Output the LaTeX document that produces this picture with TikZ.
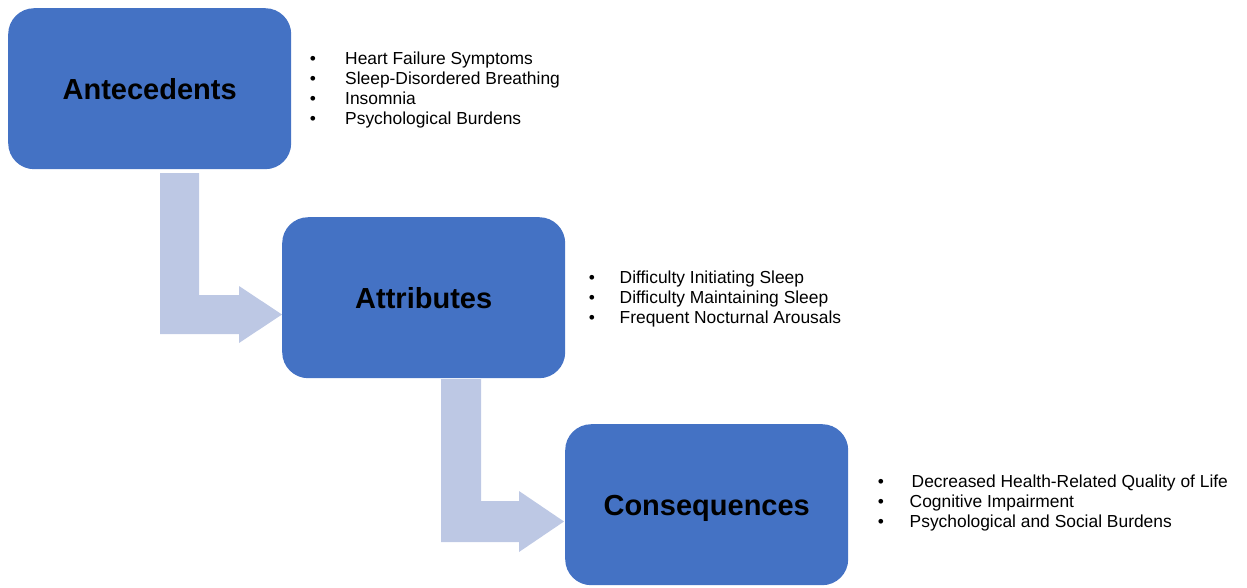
\documentclass[tikz,border=0pt]{standalone}
\usepackage{fontspec}
\setmainfont{Liberation Sans}
\definecolor{boxblue}{HTML}{4472C4}
\definecolor{arrowblue}{RGB}{189,200,228}
\begin{document}
\begin{tikzpicture}[x=1pt,y=-1pt,
  stagebox/.style={fill=boxblue, draw=none, rounded corners=26pt,
    minimum width=283pt, minimum height=161pt, anchor=north west,
    inner sep=0pt, text height=21pt, text depth=0pt,
    font=\fontsize{29}{34}\selectfont\bfseries, text=black},
  bentarrow/.style={fill=arrowblue, draw=none},
  bul/.style={anchor=base, inner sep=0pt, font=\fontsize{17.4}{20}\selectfont},
  item/.style={anchor=base west, inner sep=0pt, font=\fontsize{17.4}{20}\selectfont}]
\useasboundingbox (0,0) rectangle (1247,587);

% stage boxes
\node[stagebox] (ante) at (8,8) {Antecedents};
\node[stagebox] (attr) at (282,217) {Attributes};
\node[stagebox] (cons) at (565,424) {Consequences};

% bent arrows
\coordinate (a1) at (160,173);
\coordinate (a1tip) at (282,314.5);
\fill[bentarrow] (a1) -- (199,173) -- (199,295) -- (239,295) -- (239,286)
  -- (a1tip) -- (239,343) -- (239,334) -- (160,334) -- cycle;
\coordinate (a2) at (441,379);
\coordinate (a2tip) at (564,521.5);
\fill[bentarrow] (a2) -- (481,379) -- (481,501) -- (519,501) -- (519,491)
  -- (a2tip) -- (519,552) -- (519,542) -- (441,542) -- cycle;

% antecedent list
\node[bul] (b11) at (313,64) {•};
\node[item] (t11) at (345,64) {Heart Failure Symptoms};
\node[bul] (b12) at (313,84) {•};
\node[item] (t12) at (345,84) {Sleep-Disordered Breathing};
\node[bul] (b13) at (313,104) {•};
\node[item] (t13) at (345,104) {Insomnia};
\node[bul] (b14) at (313,124) {•};
\node[item] (t14) at (345,124) {Psychological Burdens};

% attribute list
\node[bul] (b21) at (592,283) {•};
\node[item] (t21) at (619.5,283) {Difficulty Initiating Sleep};
\node[bul] (b22) at (592,303) {•};
\node[item] (t22) at (619.5,303) {Difficulty Maintaining Sleep};
\node[bul] (b23) at (592,323) {•};
\node[item] (t23) at (619.5,323) {Frequent Nocturnal Arousals};

% consequence list
\node[bul] (b31) at (881,487) {•};
\node[item] (t31) at (911.5,487) {Decreased Health-Related Quality of Life};
\node[bul] (b32) at (881,507) {•};
\node[item] (t32) at (909.5,507) {Cognitive Impairment};
\node[bul] (b33) at (881,527) {•};
\node[item] (t33) at (909.5,527) {Psychological and Social Burdens};
\end{tikzpicture}
\end{document}
